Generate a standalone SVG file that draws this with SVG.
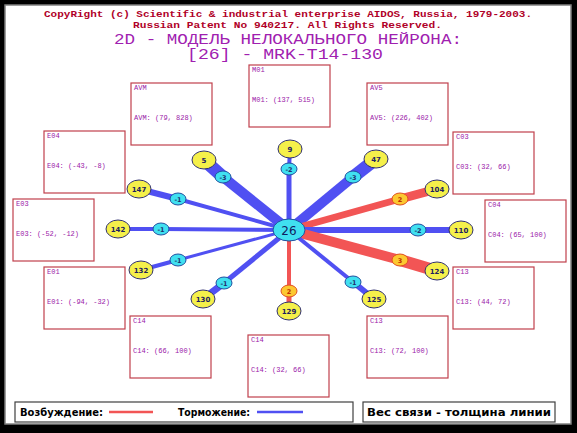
<svg xmlns="http://www.w3.org/2000/svg" width="577" height="433" viewBox="0 0 577 433">
<style>
.box{fill:#fff;stroke:#c0404c;stroke-width:1.2}
.bl{font-family:"Liberation Mono",monospace;font-size:7px;fill:#9a20a8}
.inh{stroke:#5050f2;stroke-linecap:butt;fill:none}
.exc{stroke:#f25555;stroke-linecap:butt;fill:none}
.yn{fill:#f5f04a;stroke:#303070;stroke-width:1}
.cw{fill:#40e0f0;stroke:#2050a0;stroke-width:1}
.ow{fill:#fcc830;stroke:#e05020;stroke-width:1}
.nt{font-family:"DejaVu Sans",sans-serif;font-size:7px;font-weight:bold;fill:#202060;text-anchor:middle}
.wt{font-family:"DejaVu Sans",sans-serif;font-size:6.5px;font-weight:bold;fill:#203070;text-anchor:middle}
.ot{font-family:"DejaVu Sans",sans-serif;font-size:6.5px;font-weight:bold;fill:#c03000;text-anchor:middle}
.lg{font-family:"DejaVu Sans",sans-serif;font-size:10px;font-weight:bold;fill:#000}
.t1{font-family:"Liberation Mono",monospace;font-size:9.5px;font-weight:bold;fill:#b00028}
.t2{font-family:"Liberation Mono",monospace;font-size:14px;fill:#a020b0}
</style>
<rect x="0" y="0" width="577" height="433" fill="#000"/>
<rect x="5" y="5" width="566" height="419" fill="#fff" stroke="#808080" stroke-width="1.5"/>
<g id="title">
<text class="t1" x="44" y="17" textLength="488" lengthAdjust="spacingAndGlyphs">CopyRight (c) Scientific &amp; industrial enterprise AIDOS, Russia, 1979-2003.</text>
<text class="t1" x="133" y="28" textLength="309" lengthAdjust="spacingAndGlyphs">Russian Patent No 940217. All Rights Reserved.</text>
<text class="t2" x="114" y="44" textLength="348" lengthAdjust="spacingAndGlyphs">2D - МОДЕЛЬ НЕЛОКАЛЬНОГО НЕЙРОНА:</text>
<text class="t2" x="187" y="59" textLength="196" lengthAdjust="spacingAndGlyphs">[26] - MRK-T14-130</text>
</g>
<g id="boxes">
<g id="box-M01"><rect class="box" x="249" y="65" width="81" height="62"/><text class="bl" x="252" y="72">M01</text><text class="bl" x="252" y="102">M01: (137, 515)</text></g>
<g id="box-AVM"><rect class="box" x="131" y="83" width="81" height="62"/><text class="bl" x="134" y="90">AVM</text><text class="bl" x="134" y="120">AVM: (79, 828)</text></g>
<g id="box-AV5"><rect class="box" x="367" y="83" width="81" height="62"/><text class="bl" x="370" y="90">AV5</text><text class="bl" x="370" y="120">AV5: (226, 402)</text></g>
<g id="box-E04"><rect class="box" x="44" y="131" width="81" height="62"/><text class="bl" x="47" y="138">E04</text><text class="bl" x="47" y="168">E04: (-43, -8)</text></g>
<g id="box-C03"><rect class="box" x="453" y="132" width="81" height="62"/><text class="bl" x="456" y="139">C03</text><text class="bl" x="456" y="169">C03: (32, 66)</text></g>
<g id="box-E03"><rect class="box" x="13" y="199" width="81" height="62"/><text class="bl" x="16" y="206">E03</text><text class="bl" x="16" y="236">E03: (-52, -12)</text></g>
<g id="box-C04"><rect class="box" x="485" y="200" width="81" height="62"/><text class="bl" x="488" y="207">C04</text><text class="bl" x="488" y="237">C04: (65, 100)</text></g>
<g id="box-E01"><rect class="box" x="44" y="267" width="81" height="62"/><text class="bl" x="47" y="274">E01</text><text class="bl" x="47" y="304">E01: (-94, -32)</text></g>
<g id="box-C13r"><rect class="box" x="453" y="267" width="81" height="62"/><text class="bl" x="456" y="274">C13</text><text class="bl" x="456" y="304">C13: (44, 72)</text></g>
<g id="box-C14l"><rect class="box" x="130" y="316" width="81" height="62"/><text class="bl" x="133" y="323">C14</text><text class="bl" x="133" y="353">C14: (66, 100)</text></g>
<g id="box-C13b"><rect class="box" x="367" y="316" width="81" height="62"/><text class="bl" x="370" y="323">C13</text><text class="bl" x="370" y="353">C13: (72, 100)</text></g>
<g id="box-C14b"><rect class="box" x="248" y="335" width="81" height="62"/><text class="bl" x="251" y="342">C14</text><text class="bl" x="251" y="372">C14: (32, 66)</text></g>
</g>
<g id="connectors">
<line class="inh" x1="289" y1="230" x2="289" y2="169" stroke-width="5"/><line class="inh" x1="289" y1="169" x2="290" y2="149" stroke-width="4"/>
<line class="inh" x1="289" y1="230" x2="223" y2="177" stroke-width="10"/><line class="inh" x1="223" y1="177" x2="204" y2="160" stroke-width="13"/>
<line class="inh" x1="289" y1="230" x2="353" y2="177" stroke-width="10"/><line class="inh" x1="353" y1="177" x2="376" y2="159" stroke-width="13"/>
<line class="inh" x1="289" y1="230" x2="178" y2="199" stroke-width="4"/><line class="inh" x1="178" y1="199" x2="139" y2="189" stroke-width="6"/>
<line class="inh" x1="289" y1="230" x2="161" y2="229" stroke-width="4"/><line class="inh" x1="161" y1="229" x2="118" y2="229" stroke-width="4"/>
<line class="inh" x1="289" y1="230" x2="178" y2="260" stroke-width="3"/><line class="inh" x1="178" y1="260" x2="141" y2="270" stroke-width="4"/>
<line class="exc" x1="289" y1="230" x2="400" y2="199" stroke-width="7"/><line class="exc" x1="400" y1="199" x2="437" y2="189" stroke-width="9"/>
<line class="inh" x1="289" y1="230" x2="418" y2="230" stroke-width="6"/><line class="inh" x1="418" y1="230" x2="461" y2="230" stroke-width="6"/>
<line class="exc" x1="289" y1="230" x2="400" y2="260" stroke-width="10"/><line class="exc" x1="400" y1="260" x2="437" y2="271" stroke-width="12"/>
<line class="inh" x1="289" y1="230" x2="224" y2="283" stroke-width="5"/><line class="inh" x1="224" y1="283" x2="203" y2="299" stroke-width="7"/>
<line class="exc" x1="289" y1="230" x2="289" y2="291" stroke-width="4"/><line class="exc" x1="289" y1="291" x2="289" y2="311" stroke-width="5"/>
<line class="inh" x1="289" y1="230" x2="353" y2="282" stroke-width="4"/><line class="inh" x1="353" y1="282" x2="374" y2="299" stroke-width="6"/>
</g>
<g id="weights">
<g id="w-9"><ellipse class="cw" cx="289" cy="169" rx="8" ry="6"/><text class="wt" x="289" y="171.5">-2</text></g>
<g id="w-5"><ellipse class="cw" cx="223" cy="177" rx="8" ry="6"/><text class="wt" x="223" y="179.5">-3</text></g>
<g id="w-47"><ellipse class="cw" cx="353" cy="177" rx="8" ry="6"/><text class="wt" x="353" y="179.5">-3</text></g>
<g id="w-147"><ellipse class="cw" cx="178" cy="199" rx="8" ry="6"/><text class="wt" x="178" y="201.5">-1</text></g>
<g id="w-142"><ellipse class="cw" cx="161" cy="229" rx="8" ry="6"/><text class="wt" x="161" y="231.5">-1</text></g>
<g id="w-132"><ellipse class="cw" cx="178" cy="260" rx="8" ry="6"/><text class="wt" x="178" y="262.5">-1</text></g>
<g id="w-104"><ellipse class="ow" cx="400" cy="199" rx="8" ry="6"/><text class="ot" x="400" y="201.5">2</text></g>
<g id="w-110"><ellipse class="cw" cx="418" cy="230" rx="8" ry="6"/><text class="wt" x="418" y="232.5">-2</text></g>
<g id="w-124"><ellipse class="ow" cx="400" cy="260" rx="8" ry="6"/><text class="ot" x="400" y="262.5">3</text></g>
<g id="w-130"><ellipse class="cw" cx="224" cy="283" rx="8" ry="6"/><text class="wt" x="224" y="285.5">-1</text></g>
<g id="w-129"><ellipse class="ow" cx="289" cy="291" rx="8" ry="6"/><text class="ot" x="289" y="293.5">2</text></g>
<g id="w-125"><ellipse class="cw" cx="353" cy="282" rx="8" ry="6"/><text class="wt" x="353" y="284.5">-1</text></g>
</g>
<g id="nodes">
<g id="n-26"><ellipse class="cw" cx="289" cy="230" rx="16" ry="11"/><text x="289" y="235" font-family="DejaVu Sans,sans-serif" font-size="12" fill="#102060" text-anchor="middle">26</text></g>
<g id="n-9"><ellipse class="yn" cx="290" cy="149" rx="12" ry="9"/><text class="nt" x="290" y="151.5">9</text></g>
<g id="n-5"><ellipse class="yn" cx="204" cy="160" rx="12" ry="9"/><text class="nt" x="204" y="162.5">5</text></g>
<g id="n-47"><ellipse class="yn" cx="376" cy="159" rx="12" ry="9"/><text class="nt" x="376" y="161.5">47</text></g>
<g id="n-147"><ellipse class="yn" cx="139" cy="189" rx="12" ry="9"/><text class="nt" x="139" y="191.5">147</text></g>
<g id="n-142"><ellipse class="yn" cx="118" cy="229" rx="12" ry="9"/><text class="nt" x="118" y="231.5">142</text></g>
<g id="n-132"><ellipse class="yn" cx="141" cy="270" rx="12" ry="9"/><text class="nt" x="141" y="272.5">132</text></g>
<g id="n-104"><ellipse class="yn" cx="437" cy="189" rx="12" ry="9"/><text class="nt" x="437" y="191.5">104</text></g>
<g id="n-110"><ellipse class="yn" cx="461" cy="230" rx="12" ry="9"/><text class="nt" x="461" y="232.5">110</text></g>
<g id="n-124"><ellipse class="yn" cx="437" cy="271" rx="12" ry="9"/><text class="nt" x="437" y="273.5">124</text></g>
<g id="n-130"><ellipse class="yn" cx="203" cy="299" rx="12" ry="9"/><text class="nt" x="203" y="301.5">130</text></g>
<g id="n-129"><ellipse class="yn" cx="289" cy="311" rx="12" ry="9"/><text class="nt" x="289" y="313.5">129</text></g>
<g id="n-125"><ellipse class="yn" cx="374" cy="299" rx="12" ry="9"/><text class="nt" x="374" y="301.5">125</text></g>
</g>
<g id="legend">
<rect x="15" y="402" width="338" height="20" fill="#fff" stroke="#404040" stroke-width="1.2"/>
<text class="lg" x="20" y="416" textLength="83" lengthAdjust="spacingAndGlyphs">Возбуждение:</text>
<line x1="109" y1="412" x2="153" y2="412" stroke="#f25555" stroke-width="2.5"/>
<text class="lg" x="178" y="416" textLength="72" lengthAdjust="spacingAndGlyphs">Торможение:</text>
<line x1="257" y1="412" x2="303" y2="412" stroke="#5050f2" stroke-width="2.5"/>
<rect x="363" y="402" width="192" height="20" fill="#fff" stroke="#404040" stroke-width="1.2"/>
<text class="lg" x="367" y="416" textLength="184" lengthAdjust="spacingAndGlyphs">Вес связи - толщина линии</text>
</g>
</svg>
